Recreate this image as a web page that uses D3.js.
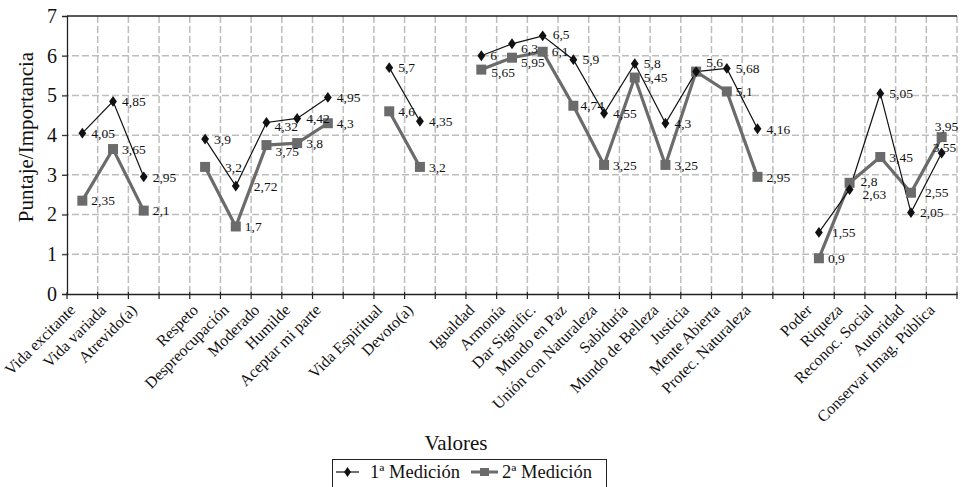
<!DOCTYPE html>
<html>
<head>
<meta charset="utf-8">
<script src="https://cdn.jsdelivr.net/npm/d3@7"></script>
<style>
  html, body { margin: 0; padding: 0; background: #fff; }
  svg { display: block; }
  svg text { font-family: 'Liberation Serif', 'Times New Roman', 'DejaVu Serif', serif !important; }
</style>
</head>
<body>
<svg id="chart" width="961" height="487"></svg>
<script>
// ---- data ----
const categories = ["Vida excitante","Vida variada","Atrevido(a)","","Respeto","Despreocupación","Moderado","Humilde","Aceptar mi parte","","Vida Espiritual","Devoto(a)","","Igualdad","Armonía","Dar Signific.","Mundo en Paz","Unión con Naturaleza","Sabiduría","Mundo de Belleza","Justicia","Mente Abierta","Protec. Naturaleza","","Poder","Riqueza","Reconoc. Social","Autoridad","Conservar Imag. Pública"];
const medicion1 = [4.05,4.85,2.95,null,3.9,2.72,4.32,4.42,4.95,null,5.7,4.35,null,6,6.3,6.5,5.9,4.55,5.8,4.3,5.6,5.68,4.16,null,1.55,2.63,5.05,2.05,3.55];
const medicion2 = [2.35,3.65,2.1,null,3.2,1.7,3.75,3.8,4.3,null,4.6,3.2,null,5.65,5.95,6.1,4.74,3.25,5.45,3.25,5.6,5.1,2.95,null,0.9,2.8,3.45,2.55,3.95];
const seriesNames = ["1ª Medición","2ª Medición"];
const yTicks = [0,1,2,3,4,5,6,7];

// label nudges (index -> [dx, dy]) ; default [9, 0]; null = label hidden (coincides with the other series)
const labelNudge1 = {5:[18,0],6:[8,4],14:[9,4],15:[10,-2],20:[10,-9],24:[13,0],25:[13,5],28:[-9,-6]};
const labelNudge2 = {4:[20,0],6:[9,6],13:[10,3],14:[9,5],16:[7,0],20:null,25:[11,-2],27:[14,0],28:[-7,-11]};

// ---- layout ----
const svg = d3.select("#chart");
const L = 67, T = 16, R = 957, B = 294;

const x = d3.scaleBand().domain(d3.range(categories.length)).range([L, R]).paddingInner(0).paddingOuter(0);
const y = d3.scaleLinear().domain([0, 7]).range([B, T]);
const cx = i => x(i) + x.bandwidth() / 2;

// gridlines
const grid = svg.append("g");
grid.selectAll("line.h").data(yTicks.filter(t => t > 0 && t < 7)).join("line")
  .attr("x1", L - 5).attr("x2", R).attr("y1", d => y(d)).attr("y2", d => y(d))
  .attr("stroke", "#bdbdbd").attr("stroke-width", 1.5).attr("stroke-dasharray", "7,3");
grid.selectAll("line.v").data(d3.range(1, categories.length + 1)).join("line")
  .attr("x1", d => L + d * x.bandwidth()).attr("x2", d => L + d * x.bandwidth())
  .attr("y1", T).attr("y2", B)
  .attr("stroke", "#bdbdbd").attr("stroke-width", 1.5).attr("stroke-dasharray", "7,3");

// top border
svg.append("line").attr("x1", L).attr("x2", R).attr("y1", T).attr("y2", T)
  .attr("stroke", "#222").attr("stroke-width", 1.3);

// y axis
const yAxis = svg.append("g").attr("transform", `translate(${L},0)`)
  .call(d3.axisLeft(y).tickValues(yTicks).tickSize(5).tickPadding(5).tickFormat(d3.format("d")));
yAxis.select(".domain").attr("stroke", "#222").attr("stroke-width", 1.3);
yAxis.selectAll(".tick line").attr("stroke", "#222");
yAxis.selectAll("text").attr("font-size", 20).attr("fill", "#111");

// x axis
const xAxis = svg.append("g").attr("transform", `translate(0,${B})`)
  .call(d3.axisBottom(x).tickSize(0).tickFormat(i => categories[i]));
xAxis.select(".domain").attr("stroke", "#222").attr("stroke-width", 1.3);
xAxis.selectAll(".tick text")
  .attr("font-size", 16).attr("fill", "#111")
  .attr("text-anchor", "end")
  .attr("y", 0).attr("dy", 0)
  .attr("transform", "translate(-6,17) rotate(-45)");
// tick marks at band boundaries
svg.append("g").selectAll("line").data(d3.range(0, categories.length + 1)).join("line")
  .attr("x1", d => L + d * x.bandwidth()).attr("x2", d => L + d * x.bandwidth())
  .attr("y1", B - 2).attr("y2", B + 5).attr("stroke", "#222").attr("stroke-width", 1.2);

// axis titles
svg.append("text").attr("transform", `translate(26,137) rotate(-90)`)
  .attr("text-anchor", "middle").attr("dominant-baseline", "central")
  .attr("font-size", 21).attr("fill", "#111").text("Puntaje/Importancia");
svg.append("text").attr("x", 456).attr("y", 450)
  .attr("text-anchor", "middle").attr("font-size", 21).attr("fill", "#111").text("Valores");

// lines
const line = d3.line().defined(d => d.v != null).x(d => cx(d.i)).y(d => y(d.v));
const s1 = medicion1.map((v, i) => ({ i, v }));
const s2 = medicion2.map((v, i) => ({ i, v }));

const gray = "#6b6b6b";
svg.append("path").datum(s2).attr("d", line).attr("fill", "none")
  .attr("stroke", gray).attr("stroke-width", 3.2).attr("stroke-linejoin", "miter");
svg.append("path").datum(s1).attr("d", line).attr("fill", "none")
  .attr("stroke", "#111").attr("stroke-width", 1.2);

// markers
svg.append("g").selectAll("rect").data(s2.filter(d => d.v != null)).join("rect")
  .attr("x", d => cx(d.i) - 5).attr("y", d => y(d.v) - 5)
  .attr("width", 10).attr("height", 10).attr("fill", gray);
const diamond = d3.symbol().type(d3.symbolDiamond).size(34);
svg.append("g").selectAll("path").data(s1.filter(d => d.v != null)).join("path")
  .attr("d", diamond).attr("transform", d => `translate(${cx(d.i)},${y(d.v)}) scale(1.25,1)`)
  .attr("fill", "#111");

// data labels
const fmt = v => String(v).replace(".", ",");
function addLabels(data, nudge) {
  svg.append("g").selectAll("text")
    .data(data.filter(d => d.v != null && nudge[d.i] !== null)).join("text")
    .attr("x", d => cx(d.i) + (nudge[d.i] ? nudge[d.i][0] : 9))
    .attr("y", d => y(d.v) + (nudge[d.i] ? nudge[d.i][1] : 0))
    .attr("dy", "0.35em")
    .attr("font-size", 13.5).attr("fill", "#111")
    .text(d => fmt(d.v));
}
addLabels(s1, labelNudge1);
addLabels(s2, labelNudge2);

// legend
const lg = svg.append("g");
lg.append("rect").attr("x", 332.5).attr("y", 459.5).attr("width", 274).attr("height", 32)
  .attr("fill", "#fff").attr("stroke", "#222").attr("stroke-width", 1);
lg.append("line").attr("x1", 336).attr("x2", 359).attr("y1", 472).attr("y2", 472)
  .attr("stroke", "#111").attr("stroke-width", 1.2);
lg.append("path").attr("d", diamond).attr("transform", "translate(347.5,472) scale(1.1,0.9)").attr("fill", "#111");
lg.append("text").attr("x", 370).attr("y", 472).attr("dy", "0.35em").attr("font-size", 18.5)
  .attr("fill", "#111").text(seriesNames[0]);
lg.append("line").attr("x1", 471).attr("x2", 498).attr("y1", 472).attr("y2", 472)
  .attr("stroke", gray).attr("stroke-width", 3);
lg.append("rect").attr("x", 480).attr("y", 468).attr("width", 9).attr("height", 8).attr("fill", gray);
lg.append("text").attr("x", 502).attr("y", 472).attr("dy", "0.35em").attr("font-size", 18.5)
  .attr("fill", "#111").text(seriesNames[1]);
</script>
</body>
</html>
